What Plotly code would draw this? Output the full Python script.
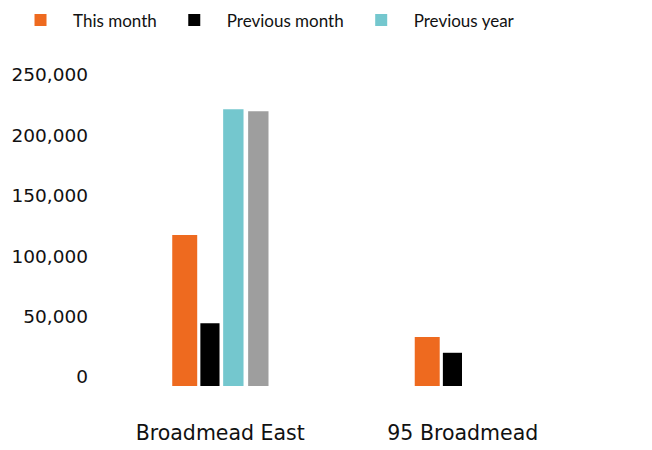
import plotly.graph_objects as go

categories = ["Broadmead East", "95 Broadmead"]
this_month = [125000, 40500]
previous_month = [52000, 27500]
previous_year = [229000, None]
two_years_ago = [227500, None]
tick_values = [0, 50000, 100000, 150000, 200000, 250000]
tick_labels = ["0", "50,000", "100,000", "150,000", "200,000", "250,000"]

fig = go.Figure()
fig.add_trace(go.Bar(x=categories, y=this_month, name="This month",
                     marker=dict(color="#EE6A1F", line=dict(width=0)),
                     offset=-0.198, width=0.103))
fig.add_trace(go.Bar(x=categories, y=previous_month, name="Previous month",
                     marker=dict(color="#000000", line=dict(width=0)),
                     offset=-0.082, width=0.079))
fig.add_trace(go.Bar(x=categories, y=previous_year, name="Previous year",
                     marker=dict(color="#74C7CE", line=dict(width=0)),
                     offset=0.012, width=0.084))
fig.add_trace(go.Bar(x=categories, y=two_years_ago, name="Two years ago",
                     marker=dict(color="#9E9E9E", line=dict(width=0)),
                     offset=0.115, width=0.084, showlegend=False))

fig.update_layout(
    width=652, height=450,
    margin=dict(l=91, r=76, t=76, b=72, autoexpand=False),
    paper_bgcolor="white", plot_bgcolor="white",
    font=dict(family="DejaVu Sans, sans-serif", size=19, color="#111111"),
    barmode="overlay",
    showlegend=True,
    legend=dict(orientation="h", xref="paper", yref="paper",
                x=-0.1876, y=1.27, xanchor="left", yanchor="top",
                font=dict(family="Lato, sans-serif", size=17), itemwidth=55,
                itemsizing="constant"),
    xaxis=dict(showgrid=False, showline=False, zeroline=False, ticks="",
               automargin=False, ticklabelstandoff=32,
               tickfont=dict(size=20.5)),
    yaxis=dict(range=[0, 250000], tickvals=tick_values, ticktext=tick_labels,
               showgrid=False, zeroline=False, showline=False, ticks="",
               automargin=False,
               ticklabelposition="outside", ticklabelshift=-9,
               tickfont=dict(size=18.5), ticklabelstandoff=10),
    hovermode=False,
)

fig.write_html("out.html")
